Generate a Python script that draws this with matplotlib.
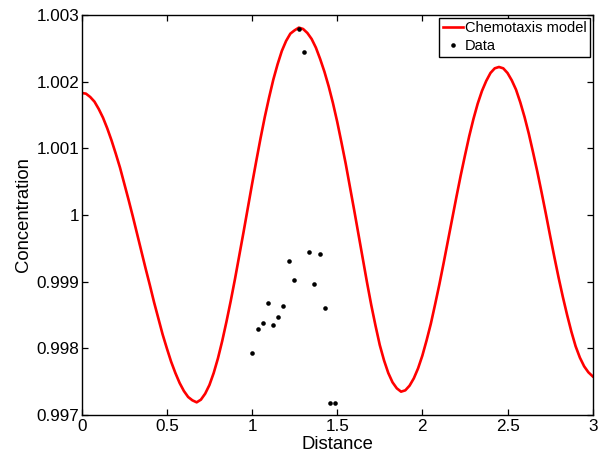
import numpy as np
import matplotlib
matplotlib.use("Agg")
import matplotlib.pyplot as plt

plt.rcParams['font.family'] = ['Liberation Sans', 'DejaVu Sans']

# model curve, every 0.025
model_x = [0.000, 0.025, 0.050, 0.075, 0.100, 0.125, 0.150, 0.175, 0.200, 0.225,
           0.250, 0.275, 0.300, 0.325, 0.350, 0.375, 0.400, 0.425, 0.450, 0.475,
           0.500, 0.525, 0.550, 0.575, 0.600, 0.625, 0.650, 0.675, 0.700, 0.725,
           0.750, 0.775, 0.800, 0.825, 0.850, 0.875, 0.900, 0.925, 0.950, 0.975,
           1.000, 1.025, 1.050, 1.075, 1.100, 1.125, 1.150, 1.175, 1.200, 1.225,
           1.250, 1.275, 1.300, 1.325, 1.350, 1.375, 1.400, 1.425, 1.450, 1.475,
           1.500, 1.525, 1.550, 1.575, 1.600, 1.625, 1.650, 1.675, 1.700, 1.725,
           1.750, 1.775, 1.800, 1.825, 1.850, 1.875, 1.900, 1.925, 1.950, 1.975,
           2.000, 2.025, 2.050, 2.075, 2.100, 2.125, 2.150, 2.175, 2.200, 2.225,
           2.250, 2.275, 2.300, 2.325, 2.350, 2.375, 2.400, 2.425, 2.450, 2.475,
           2.500, 2.525, 2.550, 2.575, 2.600, 2.625, 2.650, 2.675, 2.700, 2.725,
           2.750, 2.775, 2.800, 2.825, 2.850, 2.875, 2.900, 2.925, 2.950, 2.975,
           3.000]
model_y = [1.00183, 1.00182, 1.00177, 1.00170, 1.00159, 1.00146, 1.00130, 1.00112, 1.00092, 1.00071,
           1.00047, 1.00023, 0.99998, 0.99972, 0.99946, 0.99920, 0.99895, 0.99869, 0.99845, 0.99821,
           0.99800, 0.99780, 0.99763, 0.99748, 0.99736, 0.99727, 0.99722, 0.99719, 0.99723, 0.99732,
           0.99745, 0.99763, 0.99785, 0.99811, 0.99840, 0.99871, 0.99904, 0.99939, 0.99974, 1.00010,
           1.00046, 1.00081, 1.00115, 1.00147, 1.00176, 1.00203, 1.00226, 1.00246, 1.00261, 1.00272,
           1.00277, 1.00281, 1.00279, 1.00273, 1.00264, 1.00251, 1.00234, 1.00215, 1.00193, 1.00168,
           1.00140, 1.00109, 1.00077, 1.00042, 1.00007, 0.99971, 0.99935, 0.99899, 0.99865, 0.99834,
           0.99805, 0.99782, 0.99763, 0.99749, 0.99740, 0.99735, 0.99737, 0.99744, 0.99755, 0.99770,
           0.99789, 0.99812, 0.99837, 0.99866, 0.99896, 0.99928, 0.99961, 0.99994, 1.00027, 1.00059,
           1.00089, 1.00118, 1.00144, 1.00167, 1.00186, 1.00201, 1.00213, 1.00220, 1.00222, 1.00220,
           1.00213, 1.00202, 1.00188, 1.00169, 1.00147, 1.00122, 1.00094, 1.00065, 1.00034, 1.00002,
           0.99969, 0.99937, 0.99906, 0.99877, 0.99850, 0.99825, 0.99803, 0.99786, 0.99773, 0.99764,
           0.99758]

# measured data points
data_x = [1.278, 1.306, 1.337, 1.398, 1.215, 1.245, 1.366, 1.092, 1.184,
          1.427, 1.155, 1.062, 1.124, 1.033, 1.002, 1.457, 1.486]
data_y = [1.00279, 1.00244, 0.999445, 0.999415, 0.999315, 0.999025, 0.99896, 0.998675, 0.99864,
          0.998605, 0.998475, 0.99838, 0.99835, 0.998285, 0.99793, 0.997185, 0.997185]

xticks = [0, 0.5, 1, 1.5, 2, 2.5, 3]
xtick_labels = ['0', '0.5', '1', '1.5', '2', '2.5', '3']
yticks = [0.997, 0.998, 0.999, 1.0, 1.001, 1.002, 1.003]
ytick_labels = ['0.997', '0.998', '0.999', '1', '1.001', '1.002', '1.003']

fig = plt.figure(figsize=(6.02, 4.58), dpi=100)
ax = fig.add_axes([0.1357, 0.0939, 0.8488, 0.8734])

ax.plot(model_x, model_y, color='red', lw=1.9, label='Chemotaxis model')
ax.plot(data_x, data_y, 'o', color='black', ms=3.3, mew=0, label='Data')

ax.set_xlim(0, 3)
ax.set_ylim(0.997, 1.003)
ax.set_xticks(xticks)
ax.set_xticklabels(xtick_labels)
ax.set_yticks(yticks)
ax.set_yticklabels(ytick_labels)
ax.tick_params(direction='in', length=4, width=0.9, top=True, right=True,
               labelsize=12.3, pad=3)
ax.tick_params(axis='y', pad=1.5)
for s in ax.spines.values():
    s.set_linewidth(1.0)

ax.set_xlabel('Distance', fontsize=13.3)
ax.set_ylabel('Concentration', fontsize=13.3)
ax.xaxis.set_label_coords(0.5, -0.052)
ax.yaxis.set_label_coords(-0.098, 0.5)

leg = ax.legend(loc='upper right', bbox_to_anchor=(0.995, 0.993), fontsize=10.5,
                frameon=True, fancybox=False, framealpha=1, edgecolor='black',
                handlelength=1.35, handletextpad=0.15, borderpad=0.25,
                labelspacing=0.25, borderaxespad=0)
leg.get_frame().set_linewidth(1.0)

fig.savefig('out.png', dpi=100)
